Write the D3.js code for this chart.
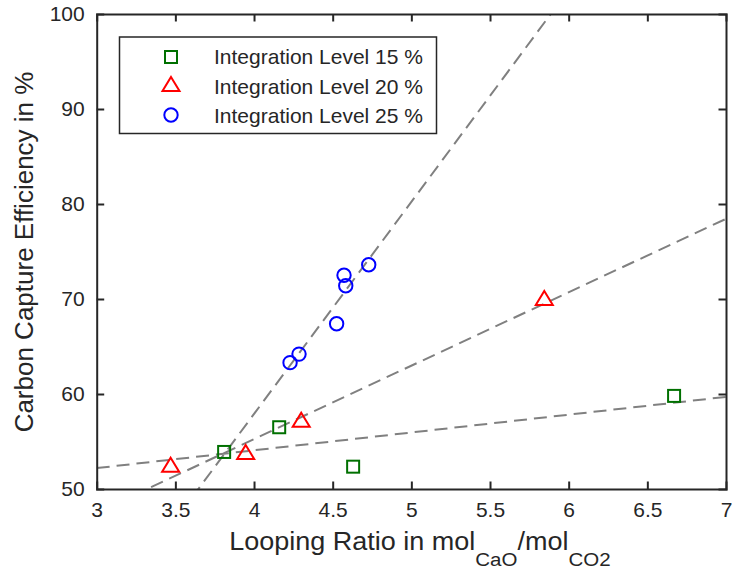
<!DOCTYPE html>
<html>
<head>
<meta charset="utf-8">
<script src="https://cdn.jsdelivr.net/npm/d3@7"></script>
<style>
  body { margin: 0; background: #fff; }
  text { font-family: "Liberation Sans", Arial, sans-serif; fill: #262626; }
</style>
</head>
<body>
<div id="chart"></div>
<script>
// data
const xTicks = [3, 3.5, 4, 4.5, 5, 5.5, 6, 6.5, 7];
const yTicks = [50, 60, 70, 80, 90, 100];

const ratio15 = [3.81, 4.16, 4.63, 6.67];
const eff15 = [53.9, 56.5, 52.35, 59.8];
const ratio20 = [3.47, 3.947, 4.30, 5.845];
const eff20 = [52.55, 53.9, 57.3, 70.1];
const ratio25 = [4.229, 4.286, 4.525, 4.572, 4.583, 4.729];
const eff25 = [63.3, 64.2, 67.4, 72.5, 71.4, 73.6];

// dashed fit lines: [slope, intercept]
const fit15 = [1.875, 46.575];
const fit20 = [7.728, 24.34];
const fit25 = [22.32, -31.38];

const seriesNames = ["Integration Level 15 %", "Integration Level 20 %", "Integration Level 25 %"];

const width = 732, height = 573;
const margin = { left: 96.7, right: 6, top: 14, bottom: 84 };

const svg = d3.select("#chart").append("svg")
    .attr("width", width)
    .attr("height", height);

const x = d3.scaleLinear().domain([3, 7]).range([margin.left, width - margin.right]);
const y = d3.scaleLinear().domain([50, 100]).range([height - margin.bottom, margin.top]);

svg.append("clipPath").attr("id", "clip")
  .append("rect")
    .attr("x", x(3)).attr("y", y(100))
    .attr("width", x(7) - x(3)).attr("height", y(50) - y(100));

// fit lines
const fits = [fit15, fit20, fit25];
const line = d3.line().x(d => x(d[0])).y(d => y(d[1]));
svg.append("g").attr("clip-path", "url(#clip)")
  .selectAll("path")
  .data(fits)
  .join("path")
    .attr("d", f => line([[3, f[0] * 3 + f[1]], [7, f[0] * 7 + f[1]]]))
    .attr("fill", "none")
    .attr("stroke", "#808080")
    .attr("stroke-width", 2)
    .attr("stroke-dasharray", "13,7");

// axes (box with inward ticks)
const tickLen = 7.5;
const axisColor = "#262626";
const axBottom = svg.append("g").attr("transform", `translate(0,${y(50)})`)
    .call(d3.axisBottom(x).tickValues(xTicks).tickSize(-tickLen).tickPadding(14).tickFormat(d3.format("")));
const axTop = svg.append("g").attr("transform", `translate(0,${y(100)})`)
    .call(d3.axisTop(x).tickValues(xTicks).tickSize(-tickLen).tickFormat(""));
const axLeft = svg.append("g").attr("transform", `translate(${x(3)},0)`)
    .call(d3.axisLeft(y).tickValues(yTicks).tickSize(-tickLen).tickPadding(12));
const axRight = svg.append("g").attr("transform", `translate(${x(7)},0)`)
    .call(d3.axisRight(y).tickValues(yTicks).tickSize(-tickLen).tickFormat(""));

[axBottom, axTop, axLeft, axRight].forEach(a => {
  a.select(".domain").attr("stroke", axisColor).attr("stroke-width", 2);
  a.selectAll(".tick line").attr("stroke", axisColor).attr("stroke-width", 2);
  a.selectAll(".tick text").attr("font-size", 21).attr("fill", axisColor)
    .attr("font-family", "Liberation Sans, Arial, sans-serif");
});
axBottom.selectAll(".tick text").attr("dy", "0.68em");
// corner ticks sit on the box edge anyway
axTop.selectAll(".tick line").filter(d => d === 3 || d === 7).remove();
axBottom.selectAll(".tick line").filter(d => d === 3 || d === 7).remove();
axLeft.selectAll(".tick line").filter(d => d === 50 || d === 100).remove();
axRight.selectAll(".tick line").filter(d => d === 50 || d === 100).remove();

// axis labels
const xl = svg.append("text")
    .attr("transform", "translate(420,550) scale(1.08,1)")
    .attr("text-anchor", "middle")
    .attr("font-size", 25);
xl.append("tspan").text("Looping Ratio in mol");
xl.append("tspan").attr("font-size", 19).attr("dy", 16).text("CaO");
xl.append("tspan").attr("dy", -16).text("/mol");
xl.append("tspan").attr("font-size", 19).attr("dy", 16).text("CO2");

svg.append("text")
    .attr("transform", "translate(33,252) rotate(-90) scale(1.04,1)")
    .attr("text-anchor", "middle")
    .attr("font-size", 25)
    .text("Carbon Capture Efficiency in %");

// markers
const green = "#007000", red = "#ff0000", blue = "#0000ff";
const triPath = "M0,-7 L8.5,7 L-8.5,7 Z";

function drawSquares(g, xs, ys) {
  g.selectAll("rect").data(xs).join("rect")
    .attr("x", d => x(d) - 6).attr("y", (d, i) => y(ys[i]) - 6)
    .attr("width", 12).attr("height", 12)
    .attr("fill", "none").attr("stroke", green).attr("stroke-width", 2);
}
function drawTriangles(g, xs, ys) {
  g.selectAll("path").data(xs).join("path")
    .attr("d", triPath)
    .attr("transform", (d, i) => `translate(${x(d)},${y(ys[i])})`)
    .attr("fill", "none").attr("stroke", red).attr("stroke-width", 2);
}
function drawCircles(g, xs, ys) {
  g.selectAll("circle").data(xs).join("circle")
    .attr("cx", d => x(d)).attr("cy", (d, i) => y(ys[i]))
    .attr("r", 6.7)
    .attr("fill", "none").attr("stroke", blue).attr("stroke-width", 2);
}

drawSquares(svg.append("g"), ratio15, eff15);
drawTriangles(svg.append("g"), ratio20, eff20);
drawCircles(svg.append("g"), ratio25, eff25);

// legend
const legend = svg.append("g");
legend.append("rect")
    .attr("x", 119.5).attr("y", 37)
    .attr("width", 317).attr("height", 96.5)
    .attr("fill", "#fff").attr("stroke", axisColor).attr("stroke-width", 1.5);
const rowY = [57, 86.5, 116];
const lx = 171;
legend.append("rect").attr("x", lx - 6).attr("y", rowY[0] - 6).attr("width", 12).attr("height", 12)
    .attr("fill", "none").attr("stroke", green).attr("stroke-width", 2);
legend.append("path").attr("d", triPath).attr("transform", `translate(${lx},${rowY[1] - 2.5})`)
    .attr("fill", "none").attr("stroke", red).attr("stroke-width", 2);
legend.append("circle").attr("cx", lx).attr("cy", rowY[2] - 1).attr("r", 6.7)
    .attr("fill", "none").attr("stroke", blue).attr("stroke-width", 2);
legend.selectAll("text.lab").data(seriesNames).join("text")
    .attr("class", "lab")
    .attr("x", 214).attr("y", (d, i) => rowY[i])
    .attr("dy", "0.35em")
    .attr("font-size", 21)
    .text(d => d);
</script>
</body>
</html>
